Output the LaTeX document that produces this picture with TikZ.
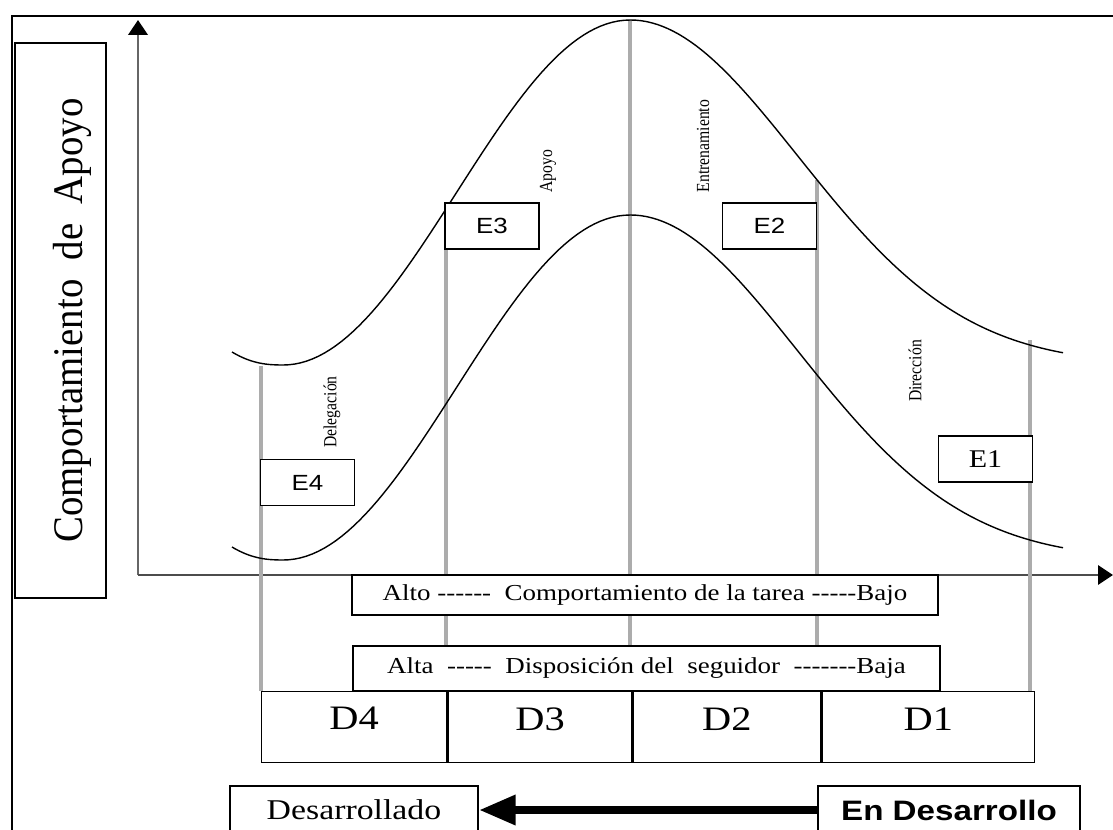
\documentclass[tikz,border=0pt]{standalone}
\usepackage{fontspec}
\setmainfont{Liberation Serif}[FakeStretch=1.18]
\setsansfont{Liberation Sans}[FakeStretch=1.18]
\newfontfamily\narrowserif{Liberation Serif}[FakeStretch=0.85]
\newfontfamily\labelserif{Liberation Serif}[FakeStretch=0.92]
\usetikzlibrary{arrows.meta,positioning}

\newcommand\hy{\mbox{-}}
% one bell curve, left raised cosine, right gaussian
\newcommand\campana{(232,352) .. controls (252,364) and (268,365) .. (283,365)
  -- plot[domain=283:630, samples=60] (\x, {365-345*cos(0.2594*(630-\x))^2})
  -- plot[domain=630:1063, samples=80] (\x, {365-345*exp(-((\x-630)/237)^2)})}

\tikzset{
  box/.style={draw, fill=white, line width=0.8pt, inner sep=0pt},
  ebox/.style={box, minimum width=1.88cm, minimum height=0.92cm, font=\sffamily\fontsize{12.5}{14}\selectfont},
  dbox/.style={box, minimum height=1.42cm, text depth=0.34cm, font=\fontsize{19.5}{22}\selectfont},
  guide/.style={gray!65, line width=2pt},
  curva/.style={line width=0.8pt},
  tag/.style={rotate=90, font=\narrowserif\fontsize{10.5}{12}\selectfont},
  punta/.style={-{Triangle[length=8.5pt,width=11pt,color=black]}},
}

\begin{document}
\begin{tikzpicture}[x=0.02cm, y=-0.02cm]
    \clip (0,0) rectangle (1113,829);
    \draw[line width=0.8pt] (12,840) -- (12,16) -- (1120,16);

    % axes
    \draw[black!60, line width=1.6pt, punta] (138,575) -- (138,20);
    \draw[black!70, line width=1.1pt, punta] (138,575) -- (1113,575);

    % guide lines down to the D row
    \coordinate (g4) at (261,691);
    \coordinate (g3) at (446,691);
    \coordinate (g2) at (630,691);
    \coordinate (g1) at (817,691);
    \coordinate (g0) at (1030,691);
    \draw[guide] (261,366) -- (g4);
    \draw[guide] (446,213) -- (g3);
    \draw[guide] (630,20) -- (g2);
    \draw[guide] (817,180) -- (g1);
    \draw[guide] (1030,340) -- (g0);

    % the two curves
    \draw[curva] \campana;
    \draw[curva, shift={(0,195)}] \campana;

    \node[box, rotate=90, minimum width=11.1cm, minimum height=1.82cm, text height=1.05cm,
          font=\labelserif\fontsize{24}{26}\selectfont] (apoyo) at (60.5,320.5) {Comportamiento\ \ de\ \ Apoyo};

    \node[tag] (deleg) at (332,412) {Delegación};
    \node[tag] (apoyolbl) at (548,171) {Apoyo};
    \node[tag] (entren) at (703,146) {Entrenamiento};
    \node[tag] (direc) at (915,371) {Dirección};

    \node[ebox] (e3) at (492,226) {E3};
    \node[ebox] (e2) at (769.5,226) {E2};
    \node[ebox] (e4) at (307.5,482.5) {E4};
    \node[ebox, font=\fontsize{14.5}{16}\selectfont] (e1) at (985.5,459) {E1};

    \node[box, minimum width=11.72cm, minimum height=0.8cm, font=\fontsize{13}{15}\selectfont] (tarea) at (645,595)
        {Alto \hy\hy\hy\hy\hy\hy\ \ Comportamiento de la tarea \hy\hy\hy\hy\hy Bajo};
    \node[box, minimum width=11.74cm, minimum height=0.9cm, font=\fontsize{13}{15}\selectfont] (seguidor) at (646.5,668.5)
        {Alta \ \hy\hy\hy\hy\hy\ \ Disposición del \ seguidor \ \hy\hy\hy\hy\hy\hy\hy Baja};

    \node[dbox, anchor=north west, minimum width=3.7cm] (d4) at (g4) {D4};
    \node[dbox, right=0pt of d4, minimum width=3.68cm] (d3) {D3};
    \node[dbox, right=0pt of d3, minimum width=3.74cm] (d2) {D2};
    \node[dbox, right=0pt of d2, minimum width=4.26cm] (d1) {D1};

    \node[box, minimum width=4.96cm, minimum height=0.96cm, font=\fontsize{16.3}{18}\selectfont] (desa) at (354,810) {Desarrollado};
    \node[box, minimum width=5.24cm, minimum height=0.96cm, font=\sffamily\bfseries\fontsize{16}{18}\selectfont] (endes) at (949,810) {En Desarrollo};
    \draw[line width=5pt, -{Triangle[length=21pt,width=16pt]}] (endes) -- (desa);
\end{tikzpicture}
\end{document}
